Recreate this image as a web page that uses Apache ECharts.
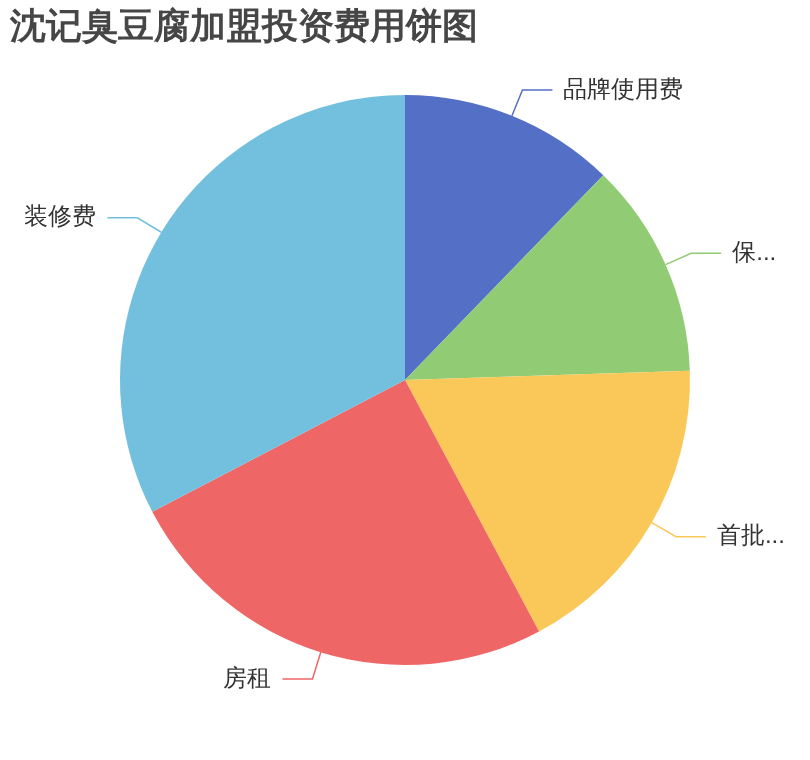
<!DOCTYPE html>
<html>
<head>
<meta charset="utf-8">
<script src="https://cdn.jsdelivr.net/npm/echarts@6/dist/echarts.min.js"></script>
<style>
    html, body { margin: 0; padding: 0; background: #fff; }
    #main { width: 810px; height: 760px; }
</style>
</head>
<body>
<div id="main"></div>
<script>
// 费用项目和金额(万元)
var costNames = ['品牌使用费', '保证金', '首批进货费', '房租', '装修费'];
var costValues = [1.5, 1.5, 2.17, 3.08, 4];

var pieData = costNames.map(function (name, i) {
    return {name: name, value: costValues[i]};
});

var chart = echarts.init(document.getElementById('main'));

chart.setOption({
    color: ['#5470c6', '#91cc75', '#fac858', '#ee6666', '#73c0de'],
    title: {
        text: '沈记臭豆腐加盟投资费用饼图',
        left: 5,
        top: 5,
        textStyle: {
            fontSize: 36,
            fontWeight: 'bold',
            color: '#464646'
        }
    },
    series: [{
        type: 'pie',
        radius: '75%',
        center: ['50%', '50%'],
        label: {
            fontSize: 24,
            color: '#333',
            distanceToLabelLine: 11
        },
        labelLine: {
            length: 28,
            length2: 30,
            lineStyle: {
                width: 1.5
            }
        },
        data: pieData
    }]
});
</script>
</body>
</html>
